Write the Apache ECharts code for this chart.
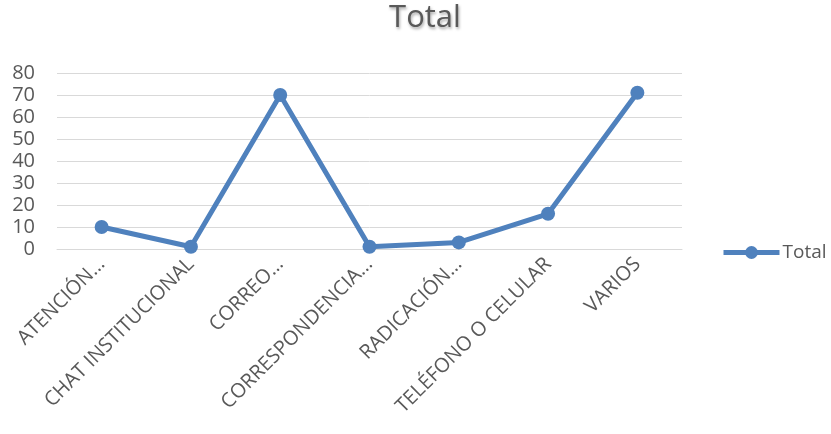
<!DOCTYPE html>
<html>
<head>
<meta charset="utf-8">
<script src="https://cdn.jsdelivr.net/npm/echarts@6/dist/echarts.min.js"></script>
<style>
  html, body { margin: 0; padding: 0; background: #fff; }
  #chart { width: 831px; height: 434px; }
</style>
</head>
<body>
<div id="chart"></div>
<script>
// Contact channels and their totals
const categories = ['ATENCIÓN…', 'CHAT INSTITUCIONAL', 'CORREO…', 'CORRESPONDENCIA…', 'RADICACIÓN…', 'TELÉFONO O CELULAR', 'VARIOS'];
const totals = [10, 1, 70, 1, 3, 16, 71];
const yTicks = { min: 0, max: 80, interval: 10 };

const font = '"Open Sans", "Noto Sans", sans-serif';
const lineColor = '#4f81bd';

const chart = echarts.init(document.getElementById('chart'));
chart.setOption({
  animation: false,
  title: {
    text: 'Total',
    left: 420,
    textAlign: 'center',
    top: -2,
    textStyle: {
      fontFamily: font,
      fontSize: 31,
      fontWeight: 'normal',
      color: '#595959',
      textShadowColor: 'rgba(0,0,0,0.35)',
      textShadowBlur: 3,
      textShadowOffsetX: 1,
      textShadowOffsetY: 2
    }
  },
  legend: {
    data: ['Total'],
    left: 716,
    top: 238,
    itemWidth: 56,
    itemHeight: 16,
    itemGap: 3,
    lineStyle: { width: 5 },
    textStyle: { fontFamily: font, fontSize: 19, color: '#595959', padding: [0, 0, 0, -2] }
  },
  grid: { left: 57, right: 149, top: 73, bottom: 185, containLabel: false },
  xAxis: {
    type: 'category',
    data: categories,
    boundaryGap: true,
    axisLine: { show: true, lineStyle: { color: '#d9d9d9', width: 1 } },
    axisTick: { show: false },
    axisLabel: {
      rotate: 45,
      interval: 0,
      margin: 12,
      fontFamily: font,
      fontSize: 20,
      color: '#595959'
    }
  },
  yAxis: {
    type: 'value',
    min: yTicks.min,
    max: yTicks.max,
    interval: yTicks.interval,
    axisLine: { show: false },
    axisTick: { show: false },
    splitLine: { lineStyle: { color: '#d9d9d9', width: 1 } },
    axisLabel: {
      margin: 22,
      fontFamily: font,
      fontSize: 20,
      color: '#595959'
    }
  },
  series: [{
    name: 'Total',
    type: 'line',
    data: totals,
    symbol: 'circle',
    symbolSize: 14,
    lineStyle: { color: lineColor, width: 5 },
    itemStyle: { color: lineColor }
  }]
});
</script>
</body>
</html>
